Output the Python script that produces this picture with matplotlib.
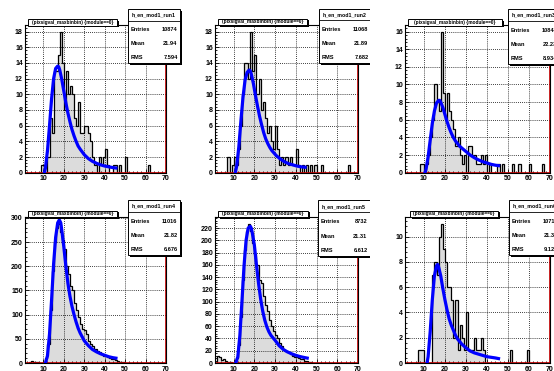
import numpy as np
import matplotlib
matplotlib.use('Agg')
import matplotlib.pyplot as plt
from matplotlib.patches import Rectangle
from matplotlib.ticker import MultipleLocator

# ---- data (bins of width 1, starting at x=1) ----
edges = np.arange(1, 71)

counts_run1 = [0, 0, 0, 0, 0, 0, 0, 0, 1, 1, 0, 2, 7, 5, 13, 13, 15, 18, 14, 8,
               13, 10, 11, 10, 7, 6, 9, 5, 5, 6, 6, 5, 4, 2, 1, 0, 2, 1, 2, 3,
               1, 0, 0, 1, 1, 0, 1, 0, 0, 2, 0, 0, 0, 0, 0, 0, 0, 0, 0, 0, 1]
counts_run2 = [0, 0, 0, 0, 0, 0, 2, 0, 1, 2, 1, 3, 6, 10, 14, 14, 12, 18, 13, 15,
               10, 12, 8, 9, 7, 5, 6, 4, 3, 6, 3, 1, 2, 1, 2, 1, 2, 1, 1, 3,
               1, 0, 1, 0, 1, 0, 1, 0, 1, 0, 0, 1, 0, 0, 0, 0, 0, 0, 0, 0,
               0, 0, 0, 0, 1]
counts_run3 = [0, 0, 0, 0, 0, 0, 0, 1, 1, 0, 1, 2, 4, 6, 10, 8, 7, 16, 9, 6,
               9, 7, 6, 5, 3, 4, 2, 1, 2, 0, 3, 3, 2, 2, 1, 1, 2, 1, 2, 0,
               1, 0, 0, 0, 1, 0, 1, 0, 0, 0, 0, 1, 0, 0, 1, 0, 0, 0, 0, 1,
               0, 0, 0, 0, 0, 1]
counts_run4 = [0, 0, 2, 5, 3, 2, 2, 1, 1, 3, 10, 40, 110, 190, 250, 280, 288, 270, 255, 235,
               200, 185, 160, 150, 125, 110, 95, 80, 70, 68, 60, 45, 40, 35, 28, 25, 22, 18, 15, 15,
               12, 10, 9, 8, 6, 5, 3, 2, 2, 1]
counts_run5 = [0, 12, 10, 5, 7, 3, 2, 1, 0, 2, 8, 30, 75, 135, 185, 215, 226, 215, 195, 178,
               160, 135, 130, 110, 95, 85, 70, 60, 52, 45, 40, 32, 28, 22, 20, 18, 15, 12, 10, 9,
               8, 7, 6, 4, 3, 2, 2]
counts_run6 = [0, 0, 0, 0, 0, 0, 1, 1, 1, 0, 0, 0, 0, 7, 8, 7, 10, 11, 9, 8,
               6, 6, 5, 2, 5, 1, 3, 2, 1, 4, 1, 1, 1, 2, 1, 1, 2, 1, 0, 0,
               0, 0, 0, 0, 0, 0, 0, 0, 0, 0, 1, 0, 0, 0, 0, 0, 0, 0, 1]

fit_x_run1 = [10.5, 11, 12, 13, 14, 15, 16, 17, 17.5, 18, 19, 20, 21, 22, 23, 24, 25, 26,
              27, 28, 30, 32, 34, 36, 38, 40, 42, 44, 45.5]
fit_y_run1 = [0, 0.6, 2.8, 6.0, 9.4, 12.0, 13.3, 13.6, 13.5, 13.1, 11.9, 10.4, 8.9, 7.6,
              6.5, 5.5, 4.7, 4.0, 3.4, 3.0, 2.3, 1.8, 1.45, 1.2, 1.0, 0.85, 0.75, 0.65, 0.6]
fit_x_run2 = [10.8, 11.5, 12.5, 13.5, 14.5, 15.5, 16.5, 17.5, 18, 18.5, 19.5, 20.5, 21.5, 22.5,
              23.5, 24.5, 25.5, 26.5, 27.5, 28.5, 30.5, 32.5, 34.5, 36.5, 38.5, 40.5, 42.5, 44.5]
fit_y_run2 = [0, 0.9, 3.3, 6.6, 9.6, 11.8, 12.8, 13.1, 13.0, 12.6, 11.4, 9.9, 8.5, 7.2,
              6.1, 5.1, 4.3, 3.7, 3.2, 2.8, 2.2, 1.75, 1.4, 1.15, 1.0, 0.85, 0.75, 0.7]
fit_x_run3 = [10.5, 11, 12, 13, 14, 15, 16, 17, 17.5, 18, 19, 20, 21, 22, 23, 24, 25, 26,
              27, 28, 30, 32, 34, 36, 38, 40, 42, 44, 45.5]
fit_y_run3 = [0, 0.4, 1.8, 3.7, 5.6, 7.0, 7.9, 8.2, 8.2, 8.0, 7.4, 6.6, 5.8, 5.1, 4.5,
              4.0, 3.6, 3.3, 3.0, 2.8, 2.4, 2.0, 1.7, 1.45, 1.25, 1.1, 0.95, 0.85, 0.8]
fit_x_run4 = [11, 12, 13, 14, 15, 16, 17, 17.8, 18.5, 19, 20, 21, 22, 23, 24, 25, 26, 27,
              28, 30, 32, 34, 36, 38, 40, 42, 44, 45.5]
fit_y_run4 = [0, 15, 60, 130, 205, 260, 290, 296, 290, 275, 240, 200, 165, 138, 117, 100,
              85, 72, 62, 46, 36, 28, 23, 19, 16, 13, 11, 10]
fit_x_run5 = [11, 12, 13, 14, 15, 16, 17, 18, 18.5, 19, 20, 21, 22, 23, 24, 25, 26, 27,
              28, 30, 32, 34, 36, 38, 40, 42, 44, 45.5]
fit_y_run5 = [0, 10, 45, 100, 158, 200, 220, 223, 220, 212, 192, 160, 130, 105, 85, 70,
              59, 51, 45, 37, 28, 22, 18, 15, 12.5, 10.5, 9, 8]
fit_x_run6 = [11.5, 12, 13, 14, 15, 16, 16.5, 17, 18, 19, 20, 21, 22, 23, 24, 25, 26, 27,
              28, 30, 32, 34, 36, 38, 40, 42, 44, 45.5]
fit_y_run6 = [0, 0.5, 2.5, 5.0, 6.9, 7.7, 7.8, 7.6, 6.9, 5.9, 5.0, 4.2, 3.5, 3.0, 2.6,
              2.2, 1.9, 1.7, 1.5, 1.2, 0.95, 0.8, 0.7, 0.6, 0.5, 0.45, 0.4, 0.35]

names = ['h_en_mod1_run1', 'h_en_mod1_run2', 'h_en_mod1_run3',
         'h_en_mod1_run4', 'h_en_mod1_run5', 'h_en_mod1_run6']
entries = ['10874', '11068', '10848', '11016', '8732', '10715']
means = ['21.94', '21.89', '22.23', '21.82', '21.31', '21.35']
rmss = ['7.594', '7.682', '8.934', '6.676', '6.612', '9.125']
title = '(pixsigval_maxbinbin) {module==0}'

all_counts = [counts_run1, counts_run2, counts_run3, counts_run4, counts_run5, counts_run6]
all_fx = [fit_x_run1, fit_x_run2, fit_x_run3, fit_x_run4, fit_x_run5, fit_x_run6]
all_fy = [fit_y_run1, fit_y_run2, fit_y_run3, fit_y_run4, fit_y_run5, fit_y_run6]
y_max = [18.9, 18.9, 16.8, 302, 238, 11.55]
y_step = [2, 2, 2, 50, 20, 2]

# ---- layout in canvas pixels ----
W, H = 554, 371
pads = [(0, 0, 185, 185.5), (185, 0, 370, 185.5), (370, 0, 554, 185.5),
        (0, 185.5, 185, 371), (185, 185.5, 370, 371), (370, 185.5, 554, 371)]
frames = [(25, 24.5, 166, 172.7), (215, 24.5, 358, 172.7), (405, 24.5, 550, 172.7),
          (25, 217, 166, 363), (215, 217, 358, 363), (405, 217, 550, 363)]
title_boxes = [(28, 19, 117, 25.5), (218, 18.5, 307, 25), (408, 19, 502, 25.5),
               (28, 210.5, 117, 217), (218, 210.5, 308, 217), (410, 210.5, 498, 217)]
stat_boxes = [(128, 9, 180, 63), (319, 8.5, 371, 62.5), (508, 9, 560, 64),
              (128, 200, 180, 255), (318, 200, 370, 256), (509, 200, 561, 255)]

plt.rcParams['font.family'] = ['Liberation Sans', 'DejaVu Sans']
plt.rcParams['font.weight'] = 'bold'

fig = plt.figure(figsize=(W / 100, H / 100), dpi=100)
fig.patch.set_facecolor('white')


def frac(x0, y0, x1, y1):
    return [x0 / W, 1 - y1 / H, (x1 - x0) / W, (y1 - y0) / H]


for i in range(6):
    ax = fig.add_axes(frac(*frames[i]))
    c = np.zeros(len(edges) - 1)
    c[:len(all_counts[i])] = all_counts[i]
    ax.stairs(c, edges, fill=True, color='#dcdcdc', zorder=1)
    ax.stairs(c, edges, color='black', lw=0.9, zorder=2)
    ax.plot(all_fx[i], all_fy[i], color='#0000ff', lw=2.3, zorder=3)
    ax.plot([1, 70, 70], [0, 0, y_max[i]], color='#cc0000', lw=1.2, zorder=2.5)
    ax.set_xlim(1, 70)
    ax.set_ylim(0, y_max[i])
    ax.xaxis.set_major_locator(MultipleLocator(10))
    ax.xaxis.set_minor_locator(MultipleLocator(2))
    ax.yaxis.set_major_locator(MultipleLocator(y_step[i]))
    ax.yaxis.set_minor_locator(MultipleLocator(y_step[i] / 5))
    ax.grid(True, which='major', color='black', linestyle=(0, (1, 1.5)), lw=0.6)
    ax.tick_params(which='both', direction='in', top=False, right=False,
                   labelsize=5, pad=1.5, width=0.6)
    ax.tick_params(which='major', length=3)
    ax.tick_params(which='minor', length=1.5)
    if i >= 3:
        ax.tick_params(axis='x', pad=2.5)
    for lab in ax.get_xticklabels() + ax.get_yticklabels():
        lab.set_fontweight('bold')
    for s in ax.spines.values():
        s.set_linewidth(0.8)

    # overlay covering the pad, for the title and stats boxes
    px0, py0, px1, py1 = pads[i]
    pa = fig.add_axes(frac(px0, py0, px1, py1))
    pa.set_xlim(px0, px1)
    pa.set_ylim(py1, py0)
    pa.axis('off')
    pa.patch.set_alpha(0)

    tx0, ty0, tx1, ty1 = title_boxes[i]
    pa.add_patch(Rectangle((tx0 + 1.5, ty0 + 1.5), tx1 - tx0, ty1 - ty0, color='black', lw=0))
    pa.add_patch(Rectangle((tx0, ty0), tx1 - tx0, ty1 - ty0, facecolor='white',
                           edgecolor='black', lw=0.7))
    pa.text((tx0 + tx1) / 2, (ty0 + ty1) / 2, title, ha='center', va='center',
            fontsize=3.4, fontweight='bold', clip_on=True)

    sx0, sy0, sx1, sy1 = stat_boxes[i]
    pa.add_patch(Rectangle((sx0 + 2, sy0 + 2), sx1 - sx0, sy1 - sy0, color='black', lw=0))
    pa.add_patch(Rectangle((sx0, sy0), sx1 - sx0, sy1 - sy0, facecolor='white',
                           edgecolor='black', lw=0.7))
    hh = (sy1 - sy0) / 5.2
    pa.plot([sx0, sx1], [sy0 + hh * 1.15, sy0 + hh * 1.15], color='black', lw=0.6)
    pa.text((sx0 + sx1) / 2, sy0 + hh * 0.6, names[i], ha='center', va='center',
            fontsize=3.8, fontweight='bold', clip_on=True)
    rows = [('Entries', entries[i]), ('Mean', means[i]), ('RMS', rmss[i])]
    for k, (lab, val) in enumerate(rows):
        yy = sy0 + hh * (2.0 + 1.35 * k)
        pa.text(sx0 + 2.5, yy, lab, ha='left', va='center', fontsize=4.1,
                fontweight='bold', clip_on=True)
        pa.text(sx1 - 2.5, yy, val, ha='right', va='center', fontsize=4.1,
                fontweight='bold', clip_on=True)

fig.savefig('out.png', dpi=100)
